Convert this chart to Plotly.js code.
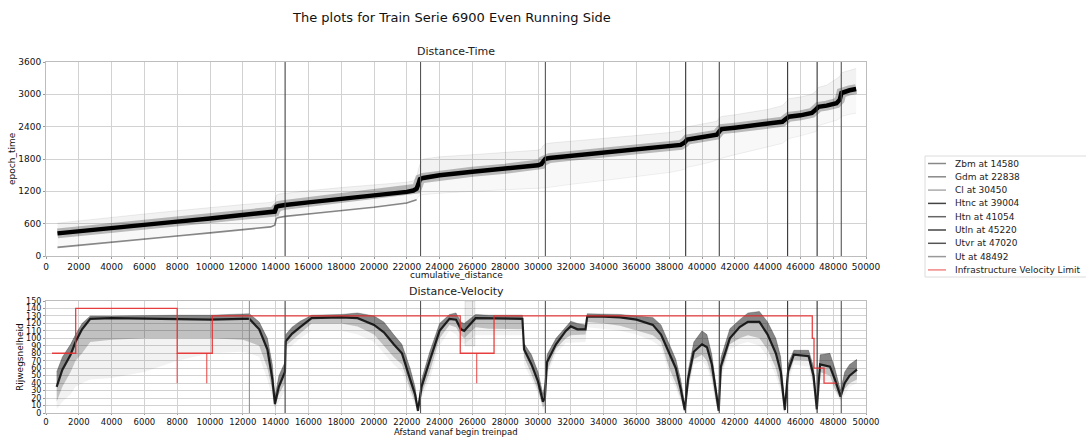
<!DOCTYPE html>
<html>
<head>
<meta charset="utf-8">
<script src="https://cdn.plot.ly/plotly-3.0.1.min.js"></script>
<style>
  html, body { margin: 0; padding: 0; background: #fff; }
  #chart { width: 1086px; height: 437px; }
</style>
</head>
<body>
<div id="chart"></div>
<script>
// ---------------- data ----------------
// station markers along the route (cumulative distance, m)
const stationNames = ["Zbm", "Gdm", "Cl", "Htnc", "Htn", "Utln", "Utvr", "Ut"];
const stationDist  = [14580, 22838, 30450, 39004, 41054, 45220, 47020, 48492];

// axis extents
const timeRange  = [0, 3600];
const speedRange = [0, 150];

// distance-time: knots along the route
const distT = [700, 2000, 4000, 6000, 8000, 10000, 12000, 13700, 13950, 14000, 14050, 14200, 14580,
  16000, 18000, 20000, 22000, 22400, 22600, 22700, 22800, 23000, 24000, 26000, 28000, 30000, 30200,
  30300, 30450, 30700, 32000, 34000, 36000, 38000, 38700, 38950, 39100, 39500, 40500, 40900, 41050,
  41200, 42000, 44000, 44900, 45150, 45300, 46000, 46700, 46950, 47100, 47600, 48200, 48400, 48500,
  49000, 49400];
// bulk of the runs (dense black band)
const timeMedian = [420, 462, 522, 580, 638, 696, 754, 805, 825, 865, 912, 928, 948,
  995, 1055, 1118, 1190, 1215, 1250, 1330, 1425, 1448, 1500, 1562, 1620, 1683, 1705,
  1760, 1805, 1818, 1858, 1913, 1968, 2030, 2062, 2110, 2162, 2180, 2222, 2250, 2310,
  2355, 2380, 2455, 2490, 2550, 2585, 2610, 2655, 2720, 2768, 2790, 2835, 2900, 3025,
  3075, 3098];
// latest runs (top of the faint spread)
const timeUpper = [610, 655, 720, 780, 840, 900, 955, 995, 1020, 1080, 1130, 1150, 1165,
  1210, 1270, 1320, 1370, 1395, 1450, 1600, 1700, 1800, 1840, 1880, 1920, 1965, 1985,
  2040, 2080, 2095, 2130, 2180, 2230, 2290, 2320, 2370, 2400, 2420, 2470, 2500, 2560,
  2590, 2620, 2720, 2790, 2870, 2920, 2950, 3000, 3060, 3130, 3170, 3280, 3330, 3400,
  3450, 3480];
// earliest runs (bottom of the faint spread)
const timeLowEdge = [170, 205, 262, 320, 378, 435, 492, 545, 575, 645, 705, 720, 740,
  785, 845, 910, 990, 1025, 1050, 1090, 1130, 1140, 1165, 1200, 1230, 1250, 1255,
  1260, 1265, 1275, 1330, 1400, 1470, 1550, 1590, 1610, 1650, 1670, 1740, 1780, 1800,
  1815, 1880, 2020, 2090, 2150, 2180, 2230, 2290, 2310, 2420, 2460, 2520, 2560, 2590,
  2630, 2650];

// an early run that ends at Gdm
const earlyRunDist = [700, 2000, 4000, 6000, 8000, 10000, 12000, 13700, 13950, 14000, 14050, 14200,
  14580, 16000, 18000, 20000, 22000, 22400, 22600];
const earlyRunTime = [160, 200, 258, 315, 372, 430, 488, 540, 570, 640, 700, 715,
  735, 780, 840, 905, 985, 1020, 1045];

// distance-velocity: knots along the route
const distV = [650, 1000, 1500, 1800, 2200, 2700, 4000, 6000, 8000, 10000, 12000, 12400, 13000,
  13500, 13800, 13960, 14200, 14570, 14620, 15000, 15500, 16200, 18000, 19000, 20000, 20600,
  21200, 21700, 22200, 22500, 22680, 22900, 23400, 24000, 24600, 25000, 25300, 25500, 26200,
  27000, 28000, 29050, 29150, 29600, 30000, 30300, 30420, 30550, 31100, 31700, 32000, 32400,
  32900, 33000, 34000, 35000, 36000, 37000, 37500, 38000, 38400, 38700, 38950, 39150, 39500,
  40000, 40300, 40600, 40850, 41020, 41150, 41700, 42300, 42800, 43500, 44000, 44500, 44800,
  45050, 45250, 45600, 46500, 46800, 47000, 47200, 47800, 48100, 48450, 48700, 49000, 49450];
const velTop = [55, 75, 92, 105, 120, 130, 130, 131, 131, 131, 132, 133, 122,
  100, 65, 22, 50, 68, 105, 115, 123, 131, 132, 134, 130, 122,
  105, 92, 60, 35, 8, 45, 82, 120, 132, 134, 122, 120, 132,
  131, 131, 131, 93, 78, 55, 25, 40, 78, 100, 115, 123, 120,
  118, 133, 133, 132, 130, 128, 118, 92, 72, 45, 12, 56, 95,
  110, 105, 78, 40, 10, 74, 113, 125, 134, 136, 122, 100, 75,
  12, 66, 84, 84, 62, 12, 78, 80, 60, 30, 55, 65, 72];
const velMid = [35, 58, 78, 95, 112, 126, 127, 126, 126, 125, 126, 126, 112,
  85, 45, 12, 35, 55, 96, 106, 115, 127, 128, 127, 118, 108,
  92, 80, 45, 25, 3, 35, 70, 110, 126, 125, 112, 110, 127,
  127, 127, 126, 85, 65, 42, 15, 20, 68, 92, 110, 116, 112,
  112, 129, 129, 128, 125, 118, 105, 80, 60, 32, 4, 45, 82,
  92, 88, 65, 28, 3, 62, 100, 115, 122, 122, 105, 80, 55,
  4, 56, 78, 76, 50, 5, 65, 62, 45, 22, 40, 50, 58];
const velBot = [15, 35, 55, 70, 80, 95, 98, 100, 100, 100, 98, 95, 90,
  60, 30, 8, 25, 40, 90, 98, 107, 120, 120, 116, 105, 90,
  75, 65, 32, 15, 1, 25, 55, 100, 118, 115, 104, 100, 115,
  113, 112, 112, 75, 52, 30, 8, 10, 56, 86, 100, 104, 104,
  105, 122, 120, 117, 110, 104, 95, 60, 40, 20, 1, 32, 72,
  78, 70, 48, 15, 1, 52, 92, 100, 104, 100, 85, 60, 35,
  1, 48, 71, 70, 38, 2, 55, 50, 32, 18, 32, 40, 45];
const velFaint = [5, 15, 25, 35, 40, 45, 47, 55, 70, 80, 82, 80, 75,
  45, 20, 5, 15, 30, 85, 90, 100, 110, 110, 105, 95, 80,
  65, 55, 25, 10, 0, 20, 45, 90, 110, 105, 95, 92, 104,
  104, 104, 104, 65, 45, 25, 5, 5, 50, 80, 94, 94, 94,
  95, 115, 113, 110, 105, 96, 88, 52, 33, 15, 0, 28, 65,
  70, 62, 40, 10, 0, 45, 85, 92, 95, 90, 75, 50, 28,
  0, 40, 65, 62, 30, 0, 45, 42, 28, 15, 25, 35, 40];

// short burst of high readings on the approach to Cl
const burstDist = [25550, 26150];
const burstLow  = [90, 90];
const burstHigh = [150, 150];

// extra marker in the velocity panel
const markerDist = [12400];

// infrastructure velocity limit (step, value holds until next distance)
const limitDist  = [366, 1810, 8000, 10140, 25260, 27320, 46725, 46830, 47440, 48200];
const limitSpeed = [80, 140, 80, 130, 80, 130, 100, 60, 40, 40];
// short drops of the limit below the step line
const limitDropDist = [8000, 9800, 26260];
const limitDropFrom = [80, 80, 80];
const limitDropTo   = [40, 40, 40];

// ---------------- helpers ----------------
function bandPolygon(xs, lo, hi) {
  const px = [], py = [];
  for (let i = 0; i < xs.length; i++) { px.push(xs[i]); py.push(hi[i]); }
  for (let i = xs.length - 1; i >= 0; i--) { px.push(xs[i]); py.push(lo[i]); }
  px.push(xs[0]); py.push(hi[0]);
  return { x: px, y: py };
}
function segments(xs, a, b) {
  const x = [], y = [];
  xs.forEach((d, i) => { x.push(d, d, null); y.push(a[i], b[i], null); });
  return { x, y };
}

const stationColors = ["#444", "#555", "#555", "#333", "#444", "#333", "#333", "#555"];
const legendColors  = ["#888", "#888", "#aaa", "#444", "#666", "#444", "#555", "#999"];
const limitColor = "rgba(232,45,45,0.9)";

const traces = [];

// ---- Distance-Time panel ----
const lowHaze = bandPolygon(distT, timeLowEdge, timeMedian);
traces.push({ x: lowHaze.x, y: lowHaze.y, xaxis: "x", yaxis: "y", mode: "lines", fill: "toself",
  fillcolor: "rgba(0,0,0,0.028)", line: { width: 0 }, hoverinfo: "skip" });
const upHaze = bandPolygon(distT, timeMedian, timeUpper);
traces.push({ x: upHaze.x, y: upHaze.y, xaxis: "x", yaxis: "y", mode: "lines", fill: "toself",
  fillcolor: "rgba(0,0,0,0.05)", line: { width: 0 }, hoverinfo: "skip" });
traces.push({ x: distT, y: timeUpper, xaxis: "x", yaxis: "y", mode: "lines",
  line: { color: "rgba(0,0,0,0.07)", width: 1 }, hoverinfo: "skip" });
traces.push({ x: distT, y: timeLowEdge, xaxis: "x", yaxis: "y", mode: "lines",
  line: { color: "rgba(0,0,0,0.06)", width: 1 }, hoverinfo: "skip" });
traces.push({ x: earlyRunDist, y: earlyRunTime, xaxis: "x", yaxis: "y", mode: "lines",
  line: { color: "rgba(0,0,0,0.45)", width: 1.6 }, hoverinfo: "skip" });
traces.push({ x: distT, y: timeMedian, xaxis: "x", yaxis: "y", mode: "lines",
  line: { color: "rgba(0,0,0,0.25)", width: 10 }, hoverinfo: "skip" });
traces.push({ x: distT, y: timeMedian, xaxis: "x", yaxis: "y", mode: "lines",
  line: { color: "#000", width: 4.5 }, hoverinfo: "skip" });

// ---- Distance-Velocity panel ----
const faintBand = bandPolygon(distV, velFaint, velTop);
traces.push({ x: faintBand.x, y: faintBand.y, xaxis: "x2", yaxis: "y2", mode: "lines", fill: "toself",
  fillcolor: "rgba(0,0,0,0.05)", line: { width: 0 }, hoverinfo: "skip" });
const mainBand = bandPolygon(distV, velBot, velTop);
traces.push({ x: mainBand.x, y: mainBand.y, xaxis: "x2", yaxis: "y2", mode: "lines", fill: "toself",
  fillcolor: "rgba(0,0,0,0.2)", line: { width: 0 }, hoverinfo: "skip" });
const denseBand = bandPolygon(distV, velMid, velTop);
traces.push({ x: denseBand.x, y: denseBand.y, xaxis: "x2", yaxis: "y2", mode: "lines", fill: "toself",
  fillcolor: "rgba(0,0,0,0.3)", line: { width: 0 }, hoverinfo: "skip" });
const burst = bandPolygon(burstDist, burstLow, burstHigh);
traces.push({ x: burst.x, y: burst.y, xaxis: "x2", yaxis: "y2", mode: "lines", fill: "toself",
  fillcolor: "rgba(0,0,0,0.07)", line: { color: "rgba(0,0,0,0.12)", width: 0.8 }, hoverinfo: "skip" });
traces.push({ x: distV, y: velTop, xaxis: "x2", yaxis: "y2", mode: "lines",
  line: { color: "rgba(0,0,0,0.22)", width: 1 }, hoverinfo: "skip" });
traces.push({ x: distV, y: velMid, xaxis: "x2", yaxis: "y2", mode: "lines",
  line: { color: "rgba(0,0,0,0.82)", width: 2.2 }, hoverinfo: "skip" });

const marker = segments(markerDist, markerDist.map(() => speedRange[0]), markerDist.map(() => speedRange[1]));
traces.push({ x: marker.x, y: marker.y, xaxis: "x2", yaxis: "y2", mode: "lines",
  line: { color: "#888", width: 1 }, hoverinfo: "skip" });

// ---- station lines (both panels) ----
stationNames.forEach((name, i) => {
  const d = stationDist[i];
  traces.push({ x: [d, d], y: timeRange, xaxis: "x", yaxis: "y", mode: "lines",
    name: name + " at " + d, line: { color: stationColors[i], width: 1.1 }, hoverinfo: "skip" });
  traces.push({ x: [d, d], y: speedRange, xaxis: "x2", yaxis: "y2", mode: "lines",
    name: name + " at " + d, line: { color: stationColors[i], width: 1.1 }, hoverinfo: "skip" });
});

// ---- infrastructure velocity limit ----
const drops = segments(limitDropDist, limitDropFrom, limitDropTo);
traces.push({ x: drops.x, y: drops.y, xaxis: "x2", yaxis: "y2", mode: "lines",
  line: { color: "rgba(232,45,45,0.7)", width: 1.3 }, hoverinfo: "skip" });
traces.push({ x: limitDist, y: limitSpeed, xaxis: "x2", yaxis: "y2", mode: "lines",
  name: "Infrastructure Velocity Limit",
  line: { color: limitColor, width: 1.3, shape: "hv" }, hoverinfo: "skip" });

// ---------------- legend (drawn in paper space, matplotlib style) ----------------
const plotLeft = 46, plotWidth = 820, plotBottom = 413, plotHeight = 351;
const px = v => (v - plotLeft) / plotWidth;
const py = v => (plotBottom - v) / plotHeight;
const legendEntries = stationNames.map((n, i) => ({ text: n + " at " + stationDist[i], color: legendColors[i] }))
  .concat([{ text: "Infrastructure Velocity Limit", color: "rgba(240,120,120,0.9)" }]);
const legendBox = { left: 925, right: 1092, top: 156, bottom: 277, firstRow: 163.5, rowStep: 13.3,
  lineFrom: 928, lineTo: 946, textAt: 953 };

const shapes = [{ type: "rect", xref: "paper", yref: "paper",
  x0: px(legendBox.left), x1: px(legendBox.right), y0: py(legendBox.bottom), y1: py(legendBox.top),
  line: { color: "#dcdcdc", width: 1 }, fillcolor: "rgba(255,255,255,0.9)", layer: "above" }];
const annotations = [];
legendEntries.forEach((e, i) => {
  const rowY = legendBox.firstRow + i * legendBox.rowStep;
  shapes.push({ type: "line", xref: "paper", yref: "paper",
    x0: px(legendBox.lineFrom), x1: px(legendBox.lineTo), y0: py(rowY), y1: py(rowY),
    line: { color: e.color, width: 1.5 }, layer: "above" });
  annotations.push({ text: e.text, xref: "paper", yref: "paper", x: px(legendBox.textAt), y: py(rowY),
    xanchor: "left", yanchor: "middle", showarrow: false,
    font: { family: "DejaVu Sans, sans-serif", size: 9, color: "#222" } });
});

// ---------------- layout ----------------
const font = "DejaVu Sans, sans-serif";
const gridStyle = { showgrid: true, gridcolor: "#d2d2d2", gridwidth: 1, zeroline: false,
  showline: true, linecolor: "#bdbdbd", linewidth: 1, mirror: true, tickformat: "d",
  ticks: "outside", ticklen: 2, tickcolor: "#999", tickfont: { family: font, size: 9, color: "#111" } };

const topBottom = (plotBottom - 256) / plotHeight;
const lowTop = (plotBottom - 301) / plotHeight;

annotations.push(
  { text: "The plots for Train Serie 6900 Even Running Side", xref: "paper", yref: "paper",
    x: 0.495, y: 1, yshift: 45, xanchor: "center", yanchor: "middle", showarrow: false,
    font: { family: font, size: 13, color: "#111" } },
  { text: "Distance-Time", xref: "paper", yref: "paper", x: 0.5, y: 1, yshift: 11,
    xanchor: "center", yanchor: "middle", showarrow: false, font: { family: font, size: 11, color: "#222" } },
  { text: "Distance-Velocity", xref: "paper", yref: "paper", x: 0.5, y: lowTop, yshift: 10,
    xanchor: "center", yanchor: "middle", showarrow: false, font: { family: font, size: 11, color: "#222" } },
  { text: "cumulative_distance", xref: "paper", yref: "paper", x: 0.5, y: topBottom, yshift: -19,
    xanchor: "center", yanchor: "middle", showarrow: false, font: { family: font, size: 9, color: "#111" } },
  { text: "Afstand vanaf begin treinpad", xref: "paper", yref: "paper", x: 0.5, y: 0, yshift: -19,
    xanchor: "center", yanchor: "middle", showarrow: false, font: { family: font, size: 8.5, color: "#111" } },
  { text: "epoch_time", xref: "paper", yref: "paper", x: 0, xshift: -34, y: (topBottom + 1) / 2,
    xanchor: "center", yanchor: "middle", textangle: -90, showarrow: false,
    font: { family: font, size: 9, color: "#111" } },
  { text: "Rijwegsnelheid", xref: "paper", yref: "paper", x: 0, xshift: -26, y: lowTop / 2,
    xanchor: "center", yanchor: "middle", textangle: -90, showarrow: false,
    font: { family: font, size: 9, color: "#111" } }
);

const layout = {
  width: 1086, height: 437,
  margin: { l: 46, r: 220, t: 62, b: 24 },
  paper_bgcolor: "#fff", plot_bgcolor: "#fff",
  font: { family: font, color: "#111" },
  showlegend: false,
  xaxis: Object.assign({}, gridStyle, { domain: [0, 1], anchor: "y", range: [0, 50000], dtick: 2000 }),
  yaxis: Object.assign({}, gridStyle, { domain: [topBottom, 1], anchor: "x", range: timeRange, dtick: 600 }),
  xaxis2: Object.assign({}, gridStyle, { domain: [0, 1], anchor: "y2", range: [0, 50000], dtick: 2000,
    ticklen: 1, tickfont: { family: font, size: 8.5, color: "#111" } }),
  yaxis2: Object.assign({}, gridStyle, { domain: [0, lowTop], anchor: "x2", range: speedRange, dtick: 10,
    tickfont: { family: font, size: 8, color: "#111" } }),
  shapes: shapes,
  annotations: annotations
};

Plotly.newPlot("chart", traces, layout, { displayModeBar: false, staticPlot: true });
</script>
</body>
</html>
